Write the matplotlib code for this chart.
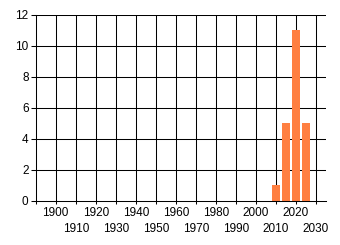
import matplotlib
matplotlib.use("Agg")
import matplotlib.pyplot as plt
from matplotlib.ticker import FixedLocator, FixedFormatter

years = [2010, 2015, 2020, 2025]
counts = [1, 5, 11, 5]
row1_ticks = [1900, 1920, 1940, 1960, 1980, 2000, 2020]
row2_ticks = [1910, 1930, 1950, 1970, 1990, 2010, 2030]
y_ticks = [0, 2, 4, 6, 8, 10, 12]

plt.rcParams['font.family'] = ['Liberation Sans', 'DejaVu Sans']

fig = plt.figure(figsize=(3.4, 2.45), dpi=100)
ax = fig.add_axes([0.105, 0.1796, 0.959 - 0.105, 0.9388 - 0.1796])

ax.set_xlim(1890, 2035)
ax.set_ylim(0, 12)

lw = 0.75
for x in range(1900, 2031, 10):
    ax.axvline(x, color='black', lw=lw, zorder=0)
for y in y_ticks[1:]:
    ax.axhline(y, color='black', lw=lw, zorder=0)

ax.bar(years, counts, width=4, color='#FF7F41', zorder=2)

ax.xaxis.set_major_locator(FixedLocator([1890] + row1_ticks))
ax.xaxis.set_major_formatter(FixedFormatter([''] + [str(t) for t in row1_ticks]))
ax.xaxis.set_minor_locator(FixedLocator(row2_ticks))
ax.xaxis.set_minor_formatter(FixedFormatter([str(t) for t in row2_ticks]))
ax.tick_params(axis='x', which='major', length=2.2, width=lw, pad=2, labelsize=8.5, colors='black')
ax.tick_params(axis='x', which='minor', length=2.2, width=lw, pad=13.5, labelsize=8.5, colors='black')

ax.set_yticks(y_ticks)
ax.set_yticklabels([str(v) for v in y_ticks])
ax.tick_params(axis='y', length=3.6, width=lw, pad=1.5, labelsize=8.5, colors='black')

for s in ['top', 'right']:
    ax.spines[s].set_visible(False)
for s in ['left', 'bottom']:
    ax.spines[s].set_color('black')
    ax.spines[s].set_linewidth(lw)

fig.savefig('out.png', dpi=100)
